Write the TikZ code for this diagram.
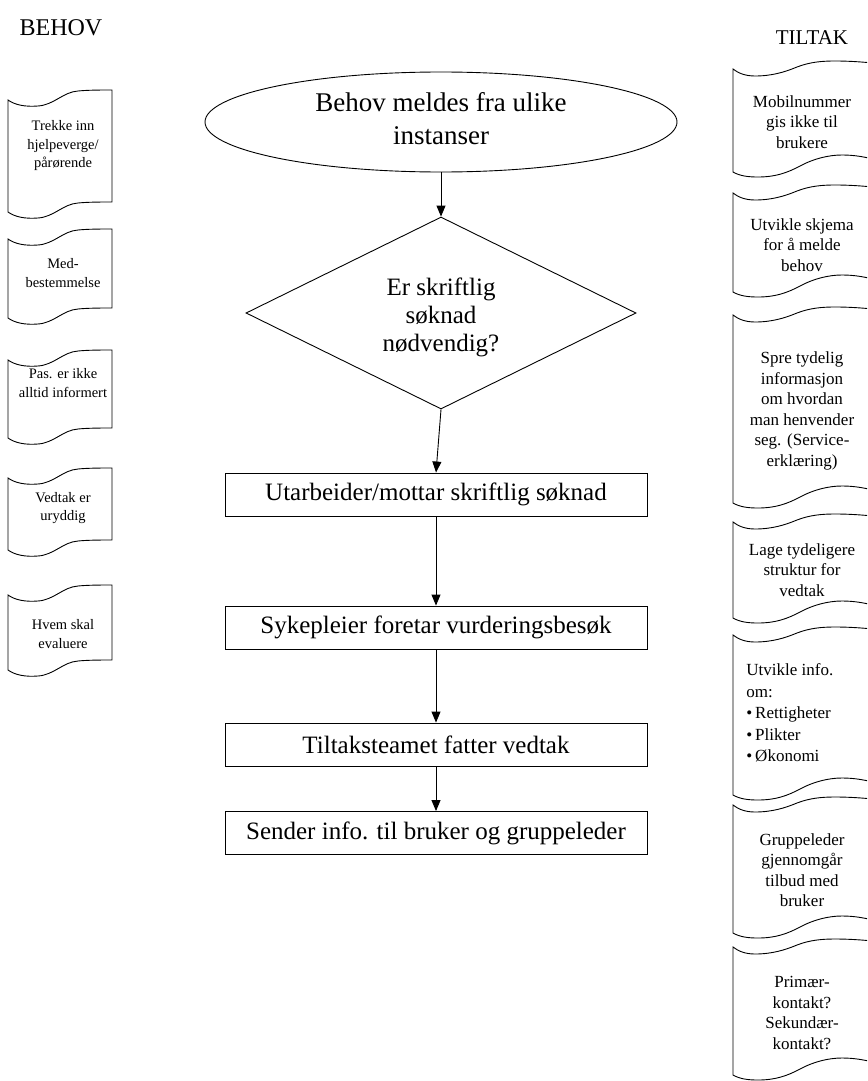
\documentclass[tikz,border=0pt]{standalone}
\usepackage{fontspec}
\setmainfont{Liberation Serif}
\usetikzlibrary{arrows.meta,shapes.geometric}

% Left-hand "punched tape" flag: #1 = y of top-left corner, #2 = height at the left edge
\newcommand\tapeleft[2]{%
  \begin{scope}[shift={(8,#1)}]
    \draw[fill=white] (0,0) .. controls (7,5) and (17,7) .. (30,6)
      .. controls (46,5) and (55,-8) .. (70,-9)
      .. controls (80,-10) and (94,-10) .. (104,-10)
      -- (104,#2-10)
      .. controls (94,#2-10) and (80,#2-10) .. (70,#2-9)
      .. controls (55,#2-8) and (46,#2+5) .. (30,#2+6)
      .. controls (17,#2+7) and (7,#2+5) .. (0,#2) -- cycle;
  \end{scope}}

% Right-hand "punched tape" strip: #1 = y of top-left corner, #2 = height at the left edge
\newcommand\taperight[2]{%
  \begin{scope}[shift={(733,#1)}]
    \draw[fill=white] (0,0) .. controls (5,4) and (12,7) .. (22,7)
      .. controls (39,7) and (52,3) .. (64,-2)
      .. controls (77,-7) and (89,-8) .. (102,-8)
      .. controls (117,-8) and (129,-7) .. (140,-6)
      -- (140,#2-13)
      .. controls (131,#2-15) and (122,#2-17) .. (109,#2-17)
      .. controls (95,#2-17) and (80,#2-13) .. (67,#2-6)
      .. controls (54,#2+1) and (42,#2+5) .. (25,#2+5)
      .. controls (15,#2+5) and (7,#2+4) .. (0,#2) -- cycle;
  \end{scope}}

\begin{document}
\begin{tikzpicture}[x=1pt,y=-1pt,
  line width=0.9pt,
  flow/.style={-{Triangle[length=11pt,width=9pt]}},
  bigtxt/.style={font=\fontsize{25}{31}\selectfont, align=center},
  boxnode/.style={draw, fill=white, minimum width=422pt, minimum height=43pt,
    inner sep=0pt, font=\fontsize{25}{30}\selectfont},
  lefttxt/.style={font=\fontsize{14.5}{18.5}\selectfont, align=center, inner sep=0pt},
  righttxt/.style={font=\fontsize{17}{20.5}\selectfont, align=center, inner sep=0pt},
  title/.style={font=\fontsize{21}{24}\selectfont, inner sep=0pt},
]
\useasboundingbox (0,0) rectangle (867,1081);
\clip (0,0) rectangle (867,1081);
\fill[white] (0,0) rectangle (867,1081);

% column headings
\node[title, font=\fontsize{24}{28}\selectfont] (behov) at (61,28) {BEHOV};
\node[title] (tiltak) at (812,38) {TILTAK};

% main flow
\node[draw, ellipse, minimum width=472pt, minimum height=100pt, inner sep=0pt] (start) at (441,122) {};
\node[bigtxt, inner sep=0pt, font=\fontsize{27}{33}\selectfont] (starttxt) at (441,119) {Behov meldes fra ulike\\instanser};

\node[draw, diamond, minimum width=390pt, minimum height=192pt, inner sep=0pt] (dec) at (441,313) {};
\node[bigtxt, inner sep=0pt, font=\fontsize{25}{28}\selectfont] (dectxt) at (441,317) {Er skriftlig\\søknad\\nødvendig?};

\node[boxnode] (b1) at (436,494.5) {Utarbeider/mottar skriftlig søknad};
\node[boxnode] (b2) at (436,627.5) {Sykepleier foretar vurderingsbesøk};
\node[boxnode] (b3) at (436,744.5) {Tiltaksteamet fatter vedtak};
\node[boxnode] (b4) at (436,833) {Sender info. til bruker og gruppeleder};

\draw[flow] (start.south) -- (dec.north);
\draw[flow] (dec.south) -- (b1.north);
\draw[flow] (b1.south) -- (b2.north);
\draw[flow] (b2.south) -- (b3.north);
\draw[flow] (b3.south) -- (b4.north);

% needs (left)
\tapeleft{100}{112}
\tapeleft{239}{79}
\tapeleft{360}{78}
\tapeleft{478}{72}
\tapeleft{595}{75}
\node[lefttxt] (l1) at (63,146) {Trekke inn\\hjelpeverge/\\pårørende};
\node[lefttxt] (l2) at (63,273) {Med-\\bestemmelse};
\node[lefttxt] (l3) at (63,383) {Pas. er ikke\\alltid informert};
\node[lefttxt] (l4) at (63,508) {Vedtak er\\uryddig};
\node[lefttxt] (l5) at (63,634) {Hvem skal\\evaluere};

% measures (right)
\taperight{69}{103}
\taperight{193}{99}
\taperight{315}{188}
\taperight{522}{96}
\taperight{635}{160}
\taperight{805}{128}
\taperight{947}{128}
\node[righttxt] (r1) at (802,122) {Mobilnummer\\gis ikke til\\brukere};
\node[righttxt] (r2) at (802,245) {Utvikle skjema\\for å melde\\behov};
\node[righttxt] (r3) at (802,411) {Spre tydelig\\informasjon\\om hvordan\\man henvender\\seg. (Service-\\erklæring)};
\node[righttxt] (r4) at (802,570) {Lage tydeligere\\struktur for\\vedtak};
\node[righttxt, align=left, anchor=west, font=\fontsize{17}{21.5}\selectfont] (r5) at (746,713)
  {Utvikle info.\\om:\\•\,Rettigheter\\•\,Plikter\\•\,Økonomi};
\node[righttxt] (r6) at (802,870) {Gruppeleder\\gjennomgår\\tilbud med\\bruker};
\node[righttxt] (r7) at (802,1013) {Primær-\\kontakt?\\Sekundær-\\kontakt?};
\end{tikzpicture}
\end{document}
